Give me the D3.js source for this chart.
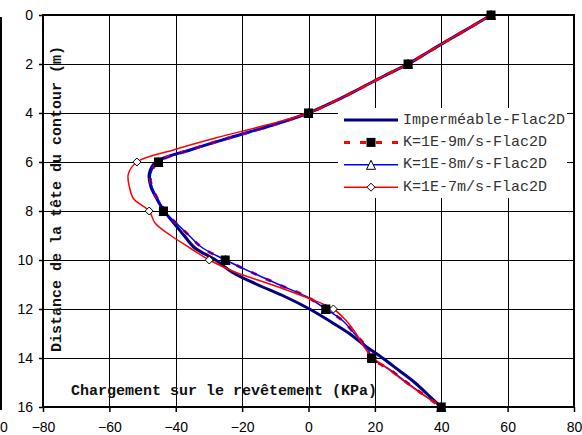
<!DOCTYPE html>
<html>
<head>
<meta charset="utf-8">
<script src="https://cdn.jsdelivr.net/npm/d3@7"></script>
<style>
  html, body { margin: 0; padding: 0; background: #fff; }
  svg { display: block; }
</style>
</head>
<body>
<svg id="chart" width="582" height="435"></svg>
<script>
// ---------------- DATA ----------------
const depths = [0,0.5,1,1.5,2,2.5,3,3.5,4,4.5,5,5.5,6,6.5,7,7.5,8,8.5,9,9.5,10,10.5,11,11.5,12,12.5,13,13.5,14,14.5,15,15.5,16];

const impermeable = [55,48.8,42.4,36.2,30,22.6,15.5,8.2,0,-11,-23.5,-35.5,-46,-48,-47.5,-45.7,-43.5,-40.5,-37.5,-34.3,-28,-23,-15.5,-7,0.3,6.5,12.3,17,22.3,27.2,32,36,40];
const k9 = [55,48.8,42.4,36.2,30,22.6,15.5,8.2,0,-11,-23.5,-35.5,-45.2,-47.6,-47.2,-45.5,-43.7,-39.8,-36,-32,-25.1,-17.2,-9,-0.5,5.2,10.5,13.8,17.2,19,24.8,29.6,34.7,40];
const k8 = [55,48.8,42.4,36.2,30,22.6,15.5,8.2,0,-11,-23.5,-35.5,-45.2,-47.6,-47.2,-45.5,-43.7,-39.8,-36,-32,-25,-17.2,-9,-0.5,5.2,10.5,13.8,17.2,19.2,24.8,29.6,34.7,40];
const k7 = [55,48.8,42.4,36.2,30,22.6,15.5,8.2,0,-13,-27.5,-40.5,-51.7,-54.3,-54,-52.7,-48,-46.2,-41.5,-35.8,-29.9,-22,-11.2,-1.2,7.5,11.5,14.3,16.5,19.5,24.5,29.3,34.5,40];

const markerDepths = [0,2,4,6,8,10,12,14,16];

const seriesNames = ["Imperméable-Flac2D","K=1E-9m/s-Flac2D","K=1E-8m/s-Flac2D","K=1E-7m/s-Flac2D"];
const xTicks = [-80,-60,-40,-20,0,20,40,60,80];
const yTicks = [0,2,4,6,8,10,12,14,16];
const xTitle = "Chargement sur le revêtement (KPa)";
const yTitle = "Distance de la tête du contour (m)";

// ---------------- CHART ----------------
const svg = d3.select("#chart");
const x = d3.scaleLinear().domain([-80,80]).range([43,574]);
const y = d3.scaleLinear().domain([0,16]).range([15,407]);

const series = [
  {name: seriesNames[0], values: impermeable, color: "#000080", width: 3, dash: null, marker: null},
  {name: seriesNames[1], values: k9, color: "#FF0000", width: 3, dash: "6,10", marker: "square"},
  {name: seriesNames[2], values: k8, color: "#0000FF", width: 1.5, dash: null, marker: "triangle"},
  {name: seriesNames[3], values: k7, color: "#FF0000", width: 1.5, dash: null, marker: "diamond"}
];

// stray left frame line and stray label
svg.append("line").attr("x1",1).attr("x2",1).attr("y1",17).attr("y2",410)
  .attr("stroke","#000").attr("stroke-width",2);
svg.append("text").attr("x",4).attr("y",432).attr("text-anchor","middle")
  .style("font-family","'Liberation Sans', Arial, sans-serif").style("font-size","14px").text("0");

// gridlines
const grid = svg.append("g").attr("shape-rendering","crispEdges");
grid.selectAll(".gx").data(xTicks.slice(1,-1)).join("line")
  .attr("x1",d=>Math.round(x(d))+0.5).attr("x2",d=>Math.round(x(d))+0.5)
  .attr("y1",y(0)).attr("y2",y(16)).attr("stroke","#000").attr("stroke-width",1);
grid.selectAll(".gy").data(yTicks.slice(1,-1)).join("line")
  .attr("y1",d=>Math.round(y(d))+0.5).attr("y2",d=>Math.round(y(d))+0.5)
  .attr("x1",x(-80)).attr("x2",x(80)).attr("stroke","#000").attr("stroke-width",1);

// axes
const yAxis = svg.append("g").attr("transform",`translate(${x(-80)},0)`)
  .call(d3.axisLeft(y).tickValues(yTicks).tickSize(4).tickPadding(6).tickFormat(d3.format("d")));
const xAxis = svg.append("g").attr("transform",`translate(0,${y(16)})`)
  .call(d3.axisBottom(x).tickValues(xTicks).tickSize(5).tickPadding(10).tickFormat(d3.format("d")));
[xAxis,yAxis].forEach(a=>{
  a.select(".domain").remove();
  a.selectAll(".tick line").attr("stroke","#000").attr("stroke-width",1.5);
  a.selectAll("text").style("font-family","'Liberation Sans', Arial, sans-serif")
    .style("font-size","14px").attr("fill","#000");
});

// plot frame
svg.append("rect").attr("x",x(-80)).attr("y",y(0)).attr("width",x(80)-x(-80)).attr("height",y(16)-y(0))
  .attr("fill","none").attr("stroke","#000").attr("stroke-width",2);

// legend background
const legX = 338, legY = 108, legW = 229, legH = 90;
svg.append("rect").attr("x",legX).attr("y",legY).attr("width",legW).attr("height",legH).attr("fill","#fff");

// titles
svg.append("text").attr("transform",`translate(57,199) rotate(-90)`)
  .attr("text-anchor","middle").attr("dominant-baseline","central")
  .style("font-family","'Liberation Mono', 'Courier New', monospace").style("font-weight","bold")
  .style("font-size","15px").attr("fill","#111").text(yTitle);
svg.append("text").attr("x",224).attr("y",391)
  .attr("text-anchor","middle").attr("dominant-baseline","central")
  .style("font-family","'Liberation Mono', 'Courier New', monospace").style("font-weight","bold")
  .style("font-size","15px").attr("fill","#111").text(xTitle);

// lines
const line = d3.line().x(d=>x(d.v)).y(d=>y(d.d)).curve(d3.curveCatmullRom.alpha(0.5));
series.forEach(s=>{
  const pts = depths.map((d,i)=>({d, v: s.values[i]}));
  svg.append("path").datum(pts).attr("d",line).attr("fill","none")
    .attr("stroke",s.color).attr("stroke-width",s.width)
    .attr("stroke-dasharray",s.dash).attr("stroke-linejoin","round");
});

function drawMarker(g, type, cx, cy) {
  if (type === "square") {
    g.append("rect").attr("x",cx-4.5).attr("y",cy-4.5).attr("width",9).attr("height",9).attr("fill","#000");
  } else if (type === "triangle") {
    g.append("path").attr("d",`M${cx},${cy-4.5}L${cx+4.5},${cy+4.5}L${cx-4.5},${cy+4.5}Z`)
      .attr("fill","#fff").attr("stroke","#000").attr("stroke-width",1);
  } else if (type === "diamond") {
    g.append("path").attr("d",`M${cx},${cy-4}L${cx+4},${cy}L${cx},${cy+4}L${cx-4},${cy}Z`)
      .attr("fill","#fff").attr("stroke","#000").attr("stroke-width",1);
  }
}

// markers: triangles, diamonds, then squares on top
const mg = svg.append("g");
[2,3,1].forEach(si=>{
  const s = series[si];
  depths.forEach((d,i)=>{
    if (markerDepths.includes(d)) drawMarker(mg, s.marker, x(s.values[i]), y(d));
  });
});

// legend entries
const leg = svg.append("g");
series.forEach((s,i)=>{
  const ly = 120 + i*22.4;
  leg.append("line").attr("x1",344).attr("x2",398).attr("y1",ly).attr("y2",ly)
    .attr("stroke",s.color).attr("stroke-width",s.width).attr("stroke-dasharray",s.dash);
  if (s.marker) drawMarker(leg, s.marker, 371, ly);
  leg.append("text").attr("x",403).attr("y",ly).attr("dominant-baseline","central")
    .style("font-family","'Liberation Mono', 'Courier New', monospace").style("font-size","15px")
    .attr("fill","#333").text(s.name);
});
</script>
</body>
</html>
